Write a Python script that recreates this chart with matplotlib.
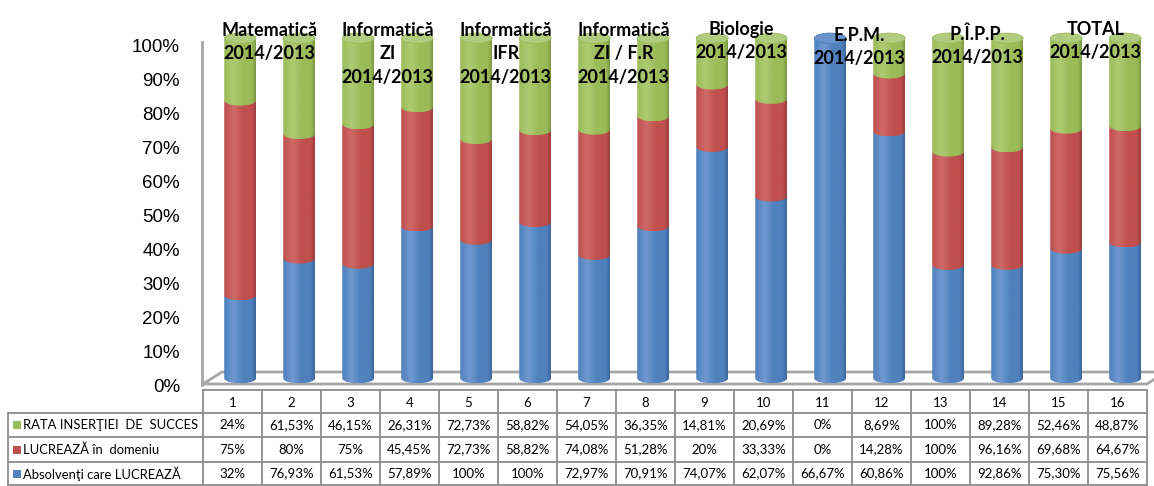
import numpy as np
import matplotlib
matplotlib.use("Agg")
import matplotlib.pyplot as plt
from matplotlib.colors import LinearSegmentedColormap
from matplotlib.path import Path
from matplotlib.patches import PathPatch, Ellipse, Polygon, Rectangle

plt.rcParams["font.family"] = ["Lato", "DejaVu Sans"]

# --- date ---
columns = [str(i) for i in range(1, 17)]
series_names = ["RATA INSERŢIEI  DE  SUCCES", "LUCREAZĂ în  domeniu", "Absolvenţi care LUCREAZĂ"]
rata_insertiei = [24, 61.53, 46.15, 26.31, 72.73, 58.82, 54.05, 36.35,
                  14.81, 20.69, 0, 8.69, 100, 89.28, 52.46, 48.87]
lucreaza_domeniu = [75, 80, 75, 45.45, 72.73, 58.82, 74.08, 51.28,
                    20, 33.33, 0, 14.28, 100, 96.16, 69.68, 64.67]
absolventi = [32, 76.93, 61.53, 57.89, 100, 100, 72.97, 70.91,
              74.07, 62.07, 66.67, 60.86, 100, 92.86, 75.30, 75.56]
group_labels = ["Matematică\n2014/2013", "Informatică\nZI\n2014/2013",
                "Informatică\nIFR\n2014/2013", "Informatică\nZI / F.R\n2014/2013",
                "Biologie\n2014/2013", "E.P.M.\n2014/2013",
                "P.Î.P.P.\n2014/2013", "TOTAL\n2014/2013"]
yticks = list(range(0, 101, 10))

# culori (inchis, baza, lumina, capac)
COLORS = {
    "blue": ("#3d669c", "#4f81bd", "#6f98cf", "#6a93c9"),
    "red": ("#9a3f3c", "#c0504d", "#cf6a67", "#cd6a67"),
    "green": ("#7d9845", "#9bbb59", "#aecb73", "#b1cb7f"),
}

W, H = 1154, 486
X0, COLW = 203, 59.0          # tabel / axa x (px)
Y0, YPX = 385, 3.4            # 0% (px) si px per unitate


def fmt(v):
    if float(v).is_integer():
        return f"{int(v)}%"
    return f"{v:.2f}%".replace(".", ",")


def cyl_segment(ax, xc, w, y0, y1, col, e, z):
    dark, base, light, _ = COLORS[col]
    t = np.linspace(np.pi, 2 * np.pi, 40)
    verts = [(xc - w / 2, y1)] + list(zip(xc + w / 2 * np.cos(t), y0 + e * np.sin(t)))
    verts += [(xc + w / 2, y1), (xc - w / 2, y1)]
    codes = [Path.MOVETO] + [Path.LINETO] * (len(verts) - 2) + [Path.CLOSEPOLY]
    patch = PathPatch(Path(verts, codes), transform=ax.transData, fc="none", ec="none")
    cmap = LinearSegmentedColormap.from_list(
        "c", [(0, base), (0.3, light), (0.6, base), (0.88, base), (1, dark)])
    im = ax.imshow(np.linspace(0, 1, 64).reshape(1, -1), cmap=cmap, aspect="auto",
                   extent=(xc - w / 2, xc + w / 2, y0 - e, y1), origin="lower",
                   interpolation="bilinear", zorder=z)
    im.set_clip_path(patch)


fig = plt.figure(figsize=(W / 100, H / 100), dpi=100)

# strat in pixeli: podea, perete, tabel
pix = fig.add_axes([0, 0, 1, 1], zorder=0)
pix.set_xlim(0, W)
pix.set_ylim(H, 0)
pix.axis("off")

x_end = X0 + COLW * 16
pix.add_patch(Polygon([(X0, Y0 - 1), (X0 + 19, Y0 - 13), (x_end + 19, Y0 - 13), (x_end, Y0 - 1)],
                      closed=True, fc="white", ec="#a6a6a6", lw=2))
pix.plot([X0 - 1, X0 - 1], [Y0, 42], color="#a6a6a6", lw=2)

# axa cu cilindri
ylo, yhi = -4, 108
ax = fig.add_axes([X0 / W, (H - (Y0 - ylo * YPX)) / H, COLW * 16 / W, (yhi - ylo) * YPX / H],
                  zorder=1)
ax.patch.set_alpha(0)
for s in ax.spines.values():
    s.set_visible(False)
ax.set_xticks([])
ax.set_yticks(yticks)
ax.set_yticklabels([f"{v}%" for v in yticks], fontsize=13.5, family="Liberation Sans")
ax.tick_params(axis="y", length=0, pad=16.5)

stack = [("blue", absolventi), ("red", lucreaza_domeniu), ("green", rata_insertiei)]
bw, e, dy, dx = 0.54, 1.5, 2.0, 0.13
for i in range(16):
    tot = sum(vals[i] for _, vals in stack)
    xc = i + 0.5 + dx
    bottom = dy
    top_col = None
    for k, (col, vals) in enumerate(stack):
        h = vals[i] / tot * 100
        if h <= 0:
            continue
        cyl_segment(ax, xc, bw, bottom, bottom + h, col, e, 2 + k)
        bottom += h
        top_col = col
    ax.add_patch(Ellipse((xc, bottom), bw, 2 * e, fc=COLORS[top_col][3],
                         ec=COLORS[top_col][1], lw=0.6, zorder=6))
ax.set_xlim(0, 16)
ax.set_ylim(ylo, yhi)

# etichete grupe
label_top = [22, 22, 22, 22, 21, 27, 25, 21]
for g, lab in enumerate(group_labels):
    xc = X0 + COLW * (2 * g + 1 + dx)
    fig.text(xc / W, 1 - label_top[g] / H, lab, ha="center", va="top", fontsize=13,
             fontweight="bold", linespacing=1.45, color="black", zorder=10)

# tabel
grid = dict(color="#8c8c8c", lw=1.3)
row_y = [390, 413, 437, 462, 485]
for j in range(17):
    x = X0 + COLW * j
    pix.plot([x, x], [row_y[0], row_y[-1]], **grid)
pix.plot([8, 8], [row_y[1], row_y[-1]], **grid)
pix.plot([X0, x_end], [row_y[0], row_y[0]], **grid)
for y in row_y[1:]:
    pix.plot([8, x_end], [y, y], **grid)

for j, c in enumerate(columns):
    pix.text(X0 + COLW * (j + 0.5), (row_y[0] + row_y[1]) / 2 + 1, c,
             ha="center", va="center", fontsize=9.5)

rows = [("green", rata_insertiei), ("red", lucreaza_domeniu), ("blue", absolventi)]
for r, (col, vals) in enumerate(rows):
    yc = (row_y[r + 1] + row_y[r + 2]) / 2
    pix.add_patch(Rectangle((13, yc - 4), 8, 8, fc=COLORS[col][1], ec="none"))
    pix.text(23, yc, series_names[r], ha="left", va="center", fontsize=9.4)
    for j, v in enumerate(vals):
        pix.text(X0 + COLW * (j + 0.5), yc, fmt(v), ha="center", va="center", fontsize=9.5)

fig.savefig("out.png", dpi=100)
